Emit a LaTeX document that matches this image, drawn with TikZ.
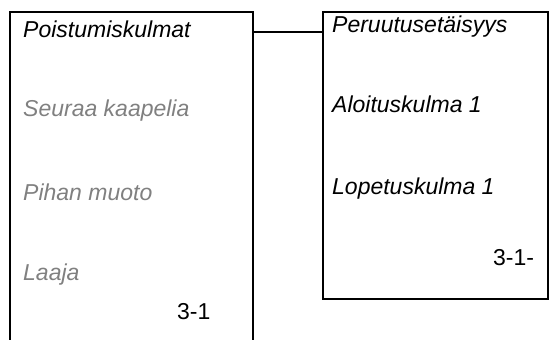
\documentclass[tikz,border=0pt]{standalone}
\usepackage{fontspec}
\setsansfont{Liberation Sans}
\usepackage{tikz}
\usetikzlibrary{positioning, calc}

\definecolor{dimtext}{RGB}{128,128,128}

\tikzset{
    frame/.style={line width=2pt, black},
    label/.style={anchor=base west, inner sep=0pt, font=\sffamily\itshape\fontsize{23}{27}\selectfont},
    dimlabel/.style={label, text=dimtext},
    pagenum/.style={anchor=base west, inner sep=0pt, font=\sffamily\fontsize{23}{27}\selectfont}
}

\begin{document}
\begin{tikzpicture}[x=1pt, y=-1pt]
    \useasboundingbox (0,0) rectangle (549,340);

    % Left box (open at the bottom)
    \draw[frame] (9.5,345) |- (253,12) -- (253,345);
    \coordinate (lpost) at (253,32);

    % Right box
    \node[frame, draw, anchor=north west, inner sep=0pt,
          minimum width=225pt, minimum height=287pt] (rbox) at (322,11) {};

    % Connector between the boxes
    \draw[frame] (lpost) -- (rbox.west |- lpost);

    % Left box texts
    \node[label]    (poist) at (23,37)  {Poistumiskulmat};
    \node[dimlabel] (seur)  at (23,116) {Seuraa kaapelia};
    \node[dimlabel] (pihan) at (23,200) {Pihan muoto};
    \node[dimlabel] (laaja) at (23,280) {Laaja};
    \node[pagenum]  (numl)  at (177,319) {3-1};

    % Right box texts
    \node[label]   (peru) at (332,32)  {Peruutusetäisyys};
    \node[label]   (aloi) at (332,112) {Aloituskulma 1};
    \node[label]   (lope) at (332,194) {Lopetuskulma 1};
    \node[pagenum] (numr) at (493,265) {3-1-};

\end{tikzpicture}
\end{document}
